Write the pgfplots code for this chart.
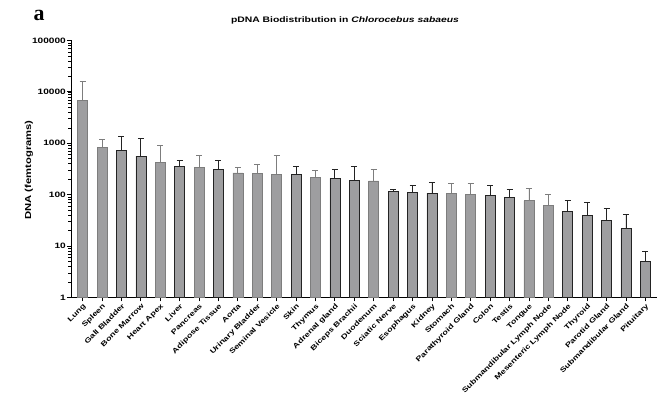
\documentclass[border=0pt]{standalone}
\usepackage{fontspec}
\setmainfont{Liberation Sans}[FakeStretch=1.3]
\newfontfamily\seriffont{Liberation Serif}
\usepackage{pgfplots}
\pgfplotsset{compat=1.18}
\usetikzlibrary{calc}
\definecolor{barfill}{RGB}{158,158,160}
\definecolor{darkedge}{RGB}{35,35,35}
\definecolor{lightedge}{RGB}{125,125,125}
% bars with light outlines
\pgfplotstableread{
idx mean err
0 6950 9050
1 830 370
4 425 475
6 335 250
8 265 75
9 257 133
10 245 340
12 214 79
15 185 126
19 107 59
20 103 63
23 76 55
24 63 37
}\lightdata
% bars with dark outlines
\pgfplotstableread{
idx mean err
2 740 640
3 560 670
5 360 105
7 308 157
11 250 100
13 208 103
14 193 157
16 116 9
17 111 41
18 107 67
21 97 55
22 89 38
25 47.5 30.5
26 40 32
27 32 23
28 21.8 19.2
29 5.1 2.8
}\darkdata
\begin{document}
\begin{tikzpicture}
\begin{axis}[name=ax,
  width=586bp, height=257bp, scale only axis,
  ymode=log, ymin=1, ymax=100000, log origin y=infty,
  xmin=-0.6, xmax=29.6,
  axis lines*=left,
  axis line style={black, line width=1pt},
  ytick={1,10,100,1000,10000,100000},
  yticklabels={1,10,100,1000,10000,100000},
  yticklabel style={font=\bfseries\fontsize{7.8}{8}\selectfont, inner sep=1pt},
  tick align=outside,
  major tick length=4bp, minor tick length=2.5bp,
  tick style={black, line width=0.8pt},
  minor tick style={line width=0.6pt},
  xtick={0,...,29},
  xticklabels={Lung,Spleen,Gall Bladder,Bone Marrow,Heart Apex,Liver,Pancreas,Adipose Tissue,Aorta,Urinary Bladder,Seminal Vesicle,Skin,Thymus,Adrenal gland,Biceps Brachii,Duodenum,Sciatic Nerve,Esophagus,Kidney,Stomach,Parathyroid Gland,Colon,Testis,Tongue,Submandibular Lymph Node,Mesenteric Lymph Node,Thyroid,Parotid Gland,Submandibular Gland,Pituitary},
  x tick label style={rotate=45, anchor=north east, font=\bfseries\fontsize{7}{8}\selectfont, inner sep=1pt},
  clip=false,
]
\addplot[ybar, bar width=10bp, bar shift=0pt, fill=barfill, draw=lightedge, line width=0.7pt,
  error bars/.cd, y dir=plus, y explicit,
  error bar style={line width=0.8pt, color=lightedge},
  error mark options={rotate=90, mark size=3bp, line width=0.8pt, color=lightedge}]
  table[x=idx, y=mean, y error plus=err] {\lightdata};
\addplot[ybar, bar width=10bp, bar shift=0pt, fill=barfill, draw=darkedge, line width=0.7pt,
  error bars/.cd, y dir=plus, y explicit,
  error bar style={line width=0.8pt, color=darkedge},
  error mark options={rotate=90, mark size=3bp, line width=0.8pt, color=darkedge}]
  table[x=idx, y=mean, y error plus=err] {\darkdata};
\end{axis}
\node[font=\bfseries\fontsize{8}{10}\selectfont] at ($(ax.south west)+(274bp,277.5bp)$) {pDNA Biodistribution in \textit{Chlorocebus sabaeus}};
\node[font=\bfseries\fontsize{8.7}{10}\selectfont, rotate=90] at ($(ax.south west)+(-42bp,127.5bp)$) {DNA (femtograms)};
\node[font=\seriffont\bfseries\fontsize{22}{24}\selectfont] at ($(ax.south west)+(-32bp,282bp)$) {a};
\pgfresetboundingbox
\path ($(ax.south west)+(-71bp,-106.5bp)$) rectangle ($(ax.south west)+(586bp,297.5bp)$);
\end{tikzpicture}
\end{document}
